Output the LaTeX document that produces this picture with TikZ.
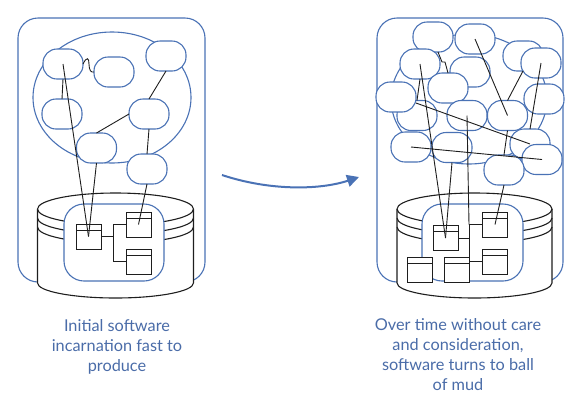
\documentclass[tikz,border=0pt]{standalone}
\usepackage{fontspec}
\setmainfont{Lato}
\usetikzlibrary{arrows.meta,calc}
\definecolor{mblue}{HTML}{4A72B5}
\definecolor{tblue}{HTML}{4A6CA8}
\definecolor{ink}{HTML}{1E1E1E}
\begin{document}
\begin{tikzpicture}[x=1pt,y=-1pt,
 blob/.style={draw=mblue, fill=white, line width=1.1pt, rounded corners=14pt, minimum width=40pt, minimum height=30pt, inner sep=0pt, outer sep=0pt},
 comp/.style={draw=ink, fill=white, line width=1pt, minimum width=25pt, minimum height=25pt, inner sep=0pt, outer sep=0pt},
 wire/.style={draw=ink, line width=0.9pt},
 frame/.style={draw=mblue, line width=1.1pt, rounded corners=20pt},
 cyl/.style={draw=ink, line width=1.1pt},
 caption/.style={text=tblue, align=center, font=\fontsize{16.3}{20}\selectfont}
]
\useasboundingbox (0,0) rectangle (583,408);

% ---------------- left panel ----------------
\draw[frame] (18,18) rectangle (205,282);
\draw[draw=mblue, line width=1.1pt] (112,97.5) ellipse [x radius=79pt, y radius=65.5pt];
\node[blob] (n1) at (63,64) {};
\node[blob] (n2) at (114,72) {};
\node[blob] (n3) at (166,56) {};
\node[blob] (n4) at (62,114) {};
\node[blob] (n5) at (149,114) {};
\node[blob] (n6) at (96.5,148) {};
\node[blob] (n7) at (147,169) {};

\path[cyl, fill=white] (37.5,209) -- (37.5,283) arc[start angle=180,end angle=360,x radius=78pt,y radius=15pt] -- (193.5,209) arc[start angle=0,end angle=180,x radius=78pt,y radius=16pt] -- cycle;
\draw[cyl] (37.5,209) arc[start angle=180,end angle=360,x radius=78pt,y radius=16pt];
\draw[cyl] (37.5,218) arc[start angle=180,end angle=360,x radius=78pt,y radius=16pt];
\draw[cyl] (37.5,227) arc[start angle=180,end angle=360,x radius=78pt,y radius=16pt];
\draw[frame, fill=white] (64,204) rectangle (164,281);

\node[comp] (lA) at (88.5,236.5) {};
\node[comp] (lB) at (138.5,224.5) {};
\node[comp] (lC) at (138.5,261.5) {};
\foreach \b in {lA,lB,lC}{\draw[wire] ($(\b.north west)+(0,6)$) -- ($(\b.north east)+(0,6)$);}
\coordinate (lJ) at (113,236.5);
\draw[wire] (lA.east) -- (lA.east -| lJ);
\draw[wire] (lB.west) -- (lB.west -| lJ) |- (lC.west);

\draw[wire] (n1.center) -- (lA.center);
\draw[wire] (n4.north) -- (n1.south);
\draw[wire] (n1.east) .. controls (87,56) and (89,58) .. (89,64) .. controls (89,70) and (91,73) .. (n2.west);
\draw[wire] (n3.south) -- (n5.north);
\draw[wire] (n5.west) -- (n6.north);
\draw[wire] (n5.south) -- (n7.north);
\draw[wire] (n6.south) -- (lA.center);
\draw[wire] (n7.south) -- (lB.center);

% ---------------- arrow ----------------
\coordinate (aS) at (222,175);
\coordinate (aE) at (359,177);
\draw[draw=mblue, line width=2pt, -{Triangle[length=12pt,width=12pt]}] (aS) .. controls (270,191) and (320,190) .. (aE);

% ---------------- right panel ----------------
\draw[frame] (377,18) rectangle (563,282);
\draw[draw=mblue, line width=1.1pt] (469,99) ellipse [x radius=78pt, y radius=65pt];
\node[blob] (r3) at (523,56) {};
\node[blob] (r4) at (541,63) {};
\node[blob] (r1) at (433,37) {};
\node[blob] (r2) at (475,39) {};
\node[blob] (r6) at (470,72) {};
\node[blob] (r5) at (420,64) {};
\node[blob] (r7) at (448,88) {};
\node[blob] (r10) at (417,115.5) {};
\node[blob] (r8) at (396,97) {};
\node[blob] (r9) at (544,99) {};
\node[blob] (r11) at (467,115.5) {};
\node[blob] (r12) at (507.5,115.5) {};
\node[blob] (r13) at (411,147) {};
\node[blob] (r14) at (452,147.5) {};
\node[blob] (r15) at (530,144) {};
\node[blob] (r16) at (542,159.5) {};
\node[blob] (r17) at (504,170) {};

\path[cyl, fill=white] (397,209) -- (397,283) arc[start angle=180,end angle=360,x radius=77.5pt,y radius=15pt] -- (552,209) arc[start angle=0,end angle=180,x radius=77.5pt,y radius=16pt] -- cycle;
\draw[cyl] (397,209) arc[start angle=180,end angle=360,x radius=77.5pt,y radius=16pt];
\draw[cyl] (397,218) arc[start angle=180,end angle=360,x radius=77.5pt,y radius=16pt];
\draw[cyl] (397,227) arc[start angle=180,end angle=360,x radius=77.5pt,y radius=16pt];
\draw[frame, fill=white] (422,204) rectangle (523,281);

\node[comp] (rA) at (445.5,238) {};
\node[comp] (rB) at (495,224.5) {};
\node[comp] (rC) at (495,261.5) {};
\node[comp] (rD) at (456.5,270) {};
\node[comp] (rE) at (419.5,270) {};
\foreach \b in {rA,rB,rC,rD,rE}{\draw[wire] ($(\b.north west)+(0,6)$) -- ($(\b.north east)+(0,6)$);}
\coordinate (rJ) at (469,238);
\draw[wire] (rA.east) -- (rJ);
\draw[wire] (rB.west) -- (rB.west -| rJ) |- (rC.west);

\draw[wire] ($(r1.south)+(5,0)$) -- (442,62) -- (445,62) -- (r7.north);
\draw[wire] (r5.center) -- (rA.center);
\draw[wire] (r5.south) -- (r10.north);
\draw[wire] (r2.center) -- (r12.center);
\draw[wire] (r3.south) -- (r12.north);
\draw[wire] (r4.center) -- (r15.north);
\draw[wire] ($(r8.east)+(0,6)$) -- (r15.center);
\draw[wire] (r13.center) -- (r16.center);
\draw[wire] (r11.center) -- (rB.west -| rJ);
\draw[wire] (r14.south) -- (rA.center);
\draw[wire] (r12.south) -- (r17.north);
\draw[wire] (r17.south) -- (rB.center);

% ---------------- captions ----------------
\node[caption] (capL) at (117,347) {Initial software\\incarnation fast to\\produce};
\node[caption] (capR) at (458,355) {Over time without care\\and consideration,\\software turns to ball\\of mud};
\end{tikzpicture}
\end{document}
